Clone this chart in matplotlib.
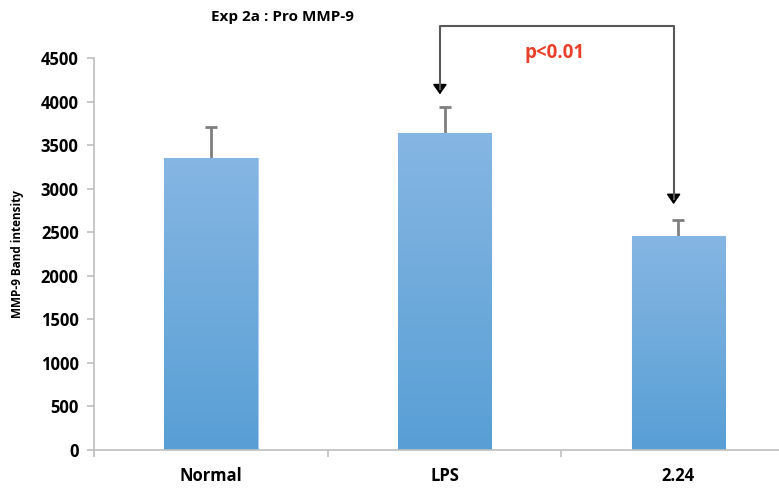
import numpy as np
import matplotlib
matplotlib.use("Agg")
from matplotlib import pyplot as plt

groups = ["Normal", "LPS", "2.24"]
means = [3350, 3640, 2460]
errs = [360, 300, 180]
yticks = [0, 500, 1000, 1500, 2000, 2500, 3000, 3500, 4000, 4500]

plt.rcParams['font.family'] = ['Open Sans', 'DejaVu Sans']
plt.rcParams['font.weight'] = 'bold'

fig = plt.figure(figsize=(7.79, 4.9), dpi=100)
ax = fig.add_axes([0.1207, 0.0816, 0.90, 0.80])

x = np.arange(len(groups))
bars = ax.bar(x, means, width=0.4, color='#6aaae0', edgecolor='#a9cdef', linewidth=0.8, zorder=2)

# gradient fill for the bars (light top, darker bottom)
grad = np.linspace(0, 1, 256).reshape(-1, 1)
cmap = matplotlib.colors.LinearSegmentedColormap.from_list('b', ['#589fd5', '#86b6e3'])
for b in bars:
    im = ax.imshow(grad, extent=[b.get_x(), b.get_x() + b.get_width(), 0, b.get_height()],
                   origin='lower', aspect='auto', cmap=cmap, zorder=2.5)
    im.set_clip_path(b)

# error bars drawn behind the bars so only the upper half shows
ax.errorbar(x, means, yerr=errs, fmt='none', ecolor='#7f7f7f',
            elinewidth=2, capsize=4, capthick=2, zorder=1)

ax.set_xlim(-0.5, 2.5)
ax.set_ylim(0, 4500)
ax.set_yticks(yticks)
ax.set_yticklabels([str(t) for t in yticks], fontsize=12, fontweight='bold')
ax.set_xticks(x)
ax.set_xticklabels(groups, fontsize=12, fontweight='bold')
ax.tick_params(axis='x', length=0, pad=12)
ax.set_xticks([-0.5, 0.5, 1.5], minor=True)
ax.tick_params(axis='x', which='minor', length=5, color='#bfbfbf', width=1.2)
ax.tick_params(axis='y', length=5, color='#bfbfbf', width=1.2, pad=6)
for s in ['top', 'right']:
    ax.spines[s].set_visible(False)
for s in ['left', 'bottom']:
    ax.spines[s].set_color('#bfbfbf')
    ax.spines[s].set_linewidth(1.2)

ax.set_ylabel('MMP-9 Band intensity', fontsize=8.5, fontweight='bold')
ax.yaxis.set_label_coords(-0.1, 0.5)

fig.text(0.363, 0.965, 'Exp 2a : Pro MMP-9', ha='center', va='center', fontsize=11, fontweight='bold')

# significance bracket with arrows
top = 4870
xl, xr = x[1] - 0.02, x[2] - 0.02
ax.plot([xl, xl, xr, xr], [4140, top, top, 2880], color='#595959', lw=1.5, clip_on=False, zorder=4)
for xx, tip in [(xl, 4050), (xr, 2790)]:
    ax.annotate('', xy=(xx, tip), xytext=(xx, tip + 140),
                arrowprops=dict(arrowstyle='-|>,head_width=0.35,head_length=0.5', color='black',
                                lw=1.2, mutation_scale=12),
                annotation_clip=False)
ax.text(1.47, 4560, 'p<0.01', color='#e8402a', fontsize=13.5, fontweight='bold', ha='center', va='center')

fig.savefig('out.png', dpi=100)
